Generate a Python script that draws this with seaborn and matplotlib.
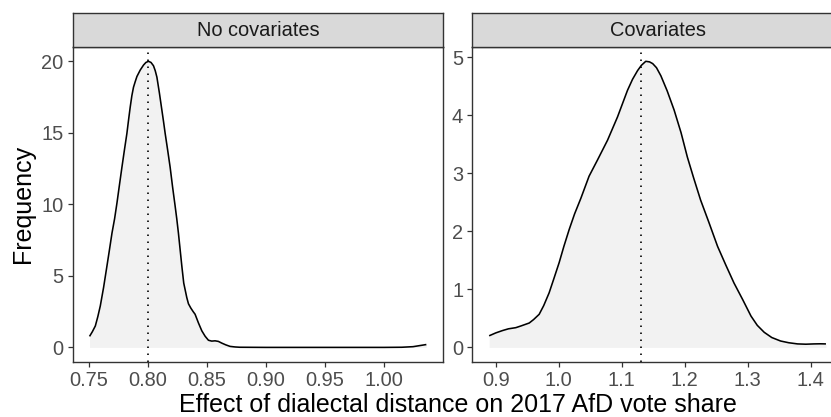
import numpy as np
import pandas as pd
import matplotlib
matplotlib.use("Agg")
import matplotlib.pyplot as plt
import seaborn as sns

# ---- data ----
panels = ["No covariates", "Covariates"]

x_nocov = [0.7508, 0.7532, 0.7557, 0.7578, 0.7599, 0.7627, 0.7655, 0.7676, 0.7698,
           0.772, 0.774, 0.776, 0.7782, 0.7803, 0.7824, 0.7838, 0.7852, 0.7866,
           0.788, 0.7895, 0.7909, 0.7937, 0.7965, 0.7985, 0.8007, 0.8028, 0.8049,
           0.8064, 0.8078, 0.8099, 0.812, 0.8134, 0.8148, 0.8169, 0.819, 0.8211,
           0.8232, 0.8246, 0.826, 0.8275, 0.8289, 0.8305, 0.8331, 0.8345, 0.8365,
           0.8385, 0.8401, 0.843, 0.8458, 0.8486, 0.8514, 0.8542, 0.857, 0.8598,
           0.8627, 0.866, 0.8697, 0.874, 0.878, 0.90, 0.95, 1.00, 1.015, 1.0245,
           1.0358]
y_nocov = [0.77, 1.1, 1.5, 2.15, 2.9, 4.2, 5.68, 6.8, 8.0,
           9.0, 10.1, 11.3, 12.6, 13.8, 14.96, 15.9, 16.8, 17.6,
           18.2, 18.6, 18.95, 19.4, 19.75, 19.93, 20.01, 19.93, 19.7,
           19.35, 18.9, 17.8, 16.6, 15.8, 14.96, 13.8, 12.6, 11.2,
           9.9, 9.0, 8.0, 6.8, 5.68, 4.5, 3.48, 3.05, 2.75,
           2.5, 2.32, 1.7, 1.16, 0.78, 0.5, 0.44, 0.46, 0.42,
           0.3, 0.18, 0.07, 0.03, 0.01, 0.0, 0.0, 0.0, 0.01, 0.05,
           0.2]

x_cov = [0.8894, 0.9, 0.9106, 0.92, 0.9317, 0.94, 0.953, 0.96, 0.9688, 0.976,
         0.9846, 0.992, 1.0005, 1.008, 1.0164, 1.025, 1.035, 1.048, 1.0614,
         1.0773, 1.0931, 1.109, 1.117, 1.125, 1.131, 1.138, 1.144, 1.149, 1.155,
         1.162, 1.172, 1.183, 1.194, 1.204, 1.214, 1.225, 1.238, 1.252, 1.265,
         1.278, 1.292, 1.305, 1.315, 1.326, 1.338, 1.352, 1.365, 1.379, 1.392,
         1.405, 1.415, 1.424]
y_cov = [0.2, 0.25, 0.29, 0.32, 0.34, 0.37, 0.42, 0.48, 0.57, 0.72,
         0.94, 1.18, 1.46, 1.74, 2.03, 2.3, 2.57, 2.95, 3.23,
         3.57, 3.97, 4.43, 4.62, 4.77, 4.86, 4.93, 4.92, 4.89, 4.82,
         4.68, 4.42, 4.09, 3.7, 3.28, 2.92, 2.54, 2.16, 1.74, 1.42,
         1.11, 0.82, 0.54, 0.38, 0.26, 0.17, 0.11, 0.08, 0.06, 0.055,
         0.06, 0.062, 0.06]

vline_x = [0.80, 1.131]

xticks_nocov = [0.75, 0.80, 0.85, 0.90, 0.95, 1.00]
xticklabels_nocov = ["0.75", "0.80", "0.85", "0.90", "0.95", "1.00"]
xticks_cov = [0.9, 1.0, 1.1, 1.2, 1.3, 1.4]
xticklabels_cov = ["0.9", "1.0", "1.1", "1.2", "1.3", "1.4"]
yticks_nocov = [0, 5, 10, 15, 20]
yticks_cov = [0, 1, 2, 3, 4, 5]

xlabel = "Effect of dialectal distance on 2017 AfD vote share"
ylabel = "Frequency"

# ---- style ----
sns.set_theme(style="white")
plt.rcParams["font.family"] = ["Liberation Sans", "DejaVu Sans"]

W, H = 831, 417
fig = plt.figure(figsize=(W / 100, H / 100), dpi=100)

def fx(px):
    return px / W

def fy(py):
    return 1 - py / H

panel_w = 370.5
panel_top, panel_bot = 47.0, 361.7
strip_top = 13.3
lefts = [72.7, 472.3]

datasets = [(x_nocov, y_nocov), (x_cov, y_cov)]
xtick_sets = [(xticks_nocov, xticklabels_nocov), (xticks_cov, xticklabels_cov)]
ytick_sets = [yticks_nocov, yticks_cov]

edge = "#333333"
for i, (name, (xs, ys)) in enumerate(zip(panels, datasets)):
    ax = fig.add_axes([fx(lefts[i]), fy(panel_bot), panel_w / W, (panel_bot - panel_top) / H])
    df = pd.DataFrame({"x": xs, "y": ys})
    ax.fill_between(df["x"], 0, df["y"], color="#f2f2f2", linewidth=0, zorder=1)
    sns.lineplot(data=df, x="x", y="y", ax=ax, color="black", linewidth=1.15,
                 estimator=None, sort=False, zorder=3,
                 solid_joinstyle="round", solid_capstyle="butt")
    ax.axvline(vline_x[i], color="black", linewidth=1.2, linestyle=(0, (0.9, 3.3)), zorder=2)
    # ggplot-like expansion
    xmin, xmax = min(xs), max(xs)
    ex = (xmax - xmin) * 0.05
    ax.set_xlim(xmin - ex, xmax + ex)
    ymax = max(ys)
    ax.set_ylim(-0.05 * ymax, ymax * 1.05)
    ticks, labels = xtick_sets[i]
    ax.set_xticks(ticks)
    ax.set_xticklabels(labels)
    ax.set_yticks(ytick_sets[i])
    ax.set_yticklabels([str(v) for v in ytick_sets[i]])
    ax.set_xlabel("")
    ax.set_ylabel("")
    ax.tick_params(axis="both", which="major", length=3.6, width=0.9, color=edge,
                   labelsize=14.4, labelcolor="#4d4d4d", pad=3,
                   bottom=True, left=True, top=False, right=False)
    for s in ax.spines.values():
        s.set_color(edge)
        s.set_linewidth(1.0)
        s.set_visible(True)
    ax.set_facecolor("white")
    ax.grid(False)

    # strip
    sax = fig.add_axes([fx(lefts[i]), fy(panel_top), panel_w / W, (panel_top - strip_top) / H])
    sax.set_facecolor("#d9d9d9")
    sax.set_xticks([])
    sax.set_yticks([])
    for s in sax.spines.values():
        s.set_color(edge)
        s.set_linewidth(1.0)
    sax.text(0.5, 0.5, name, transform=sax.transAxes, ha="center", va="center",
             fontsize=14.4, color="#1a1a1a")

fig.text(fx(23), fy(204), ylabel, rotation=90, ha="center", va="center",
         fontsize=18, color="black")
fig.text(fx((lefts[0] + lefts[1] + panel_w) / 2), fy(405), xlabel, ha="center", va="center",
         fontsize=18, color="black")

fig.savefig("out.png", dpi=100)
